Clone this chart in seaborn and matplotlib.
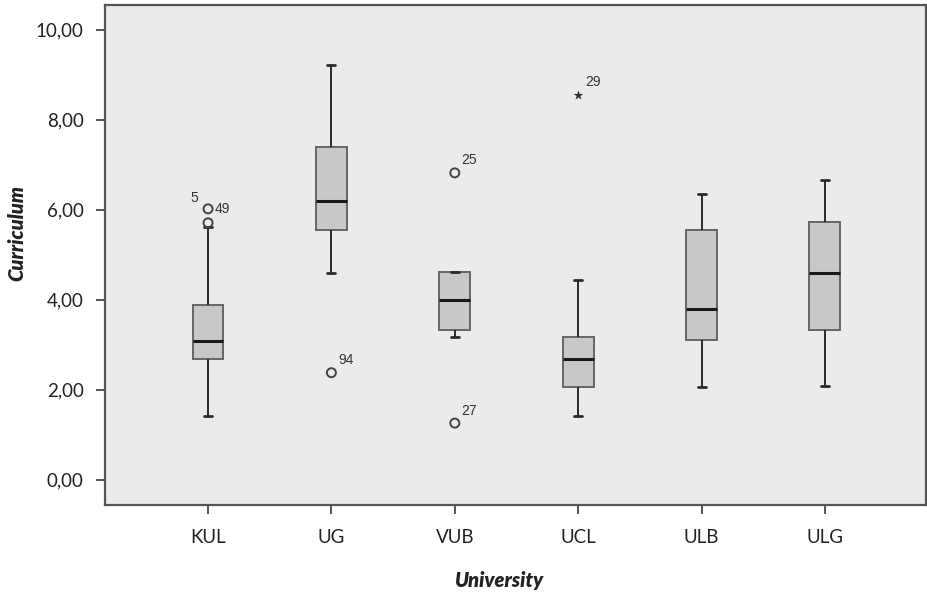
import numpy as np
import pandas as pd
import matplotlib
matplotlib.use("Agg")
import matplotlib.pyplot as plt
import seaborn as sns

# Box summary (SPSS style boxplot)
universities = ["KUL", "UG", "VUB", "UCL", "ULB", "ULG"]
whisker_low = [1.42, 4.60, 3.18, 1.42, 2.06, 2.08]
q1 = [2.68, 5.55, 3.33, 2.06, 3.10, 3.33]
median = [3.09, 6.19, 3.99, 2.69, 3.80, 4.60]
q3 = [3.89, 7.39, 4.61, 3.18, 5.55, 5.72]
whisker_high = [5.62, 9.21, 4.61, 4.44, 6.36, 6.66]

# Outliers (o = outlier, * = extreme) with their case numbers
outlier_uni = ["KUL", "KUL", "UG", "VUB", "VUB", "UCL"]
outlier_val = [5.71, 6.02, 2.38, 6.82, 1.26, 8.56]
outlier_case = ["5", "49", "94", "25", "27", "29"]
outlier_kind = ["o", "o", "o", "o", "o", "*"]

ytick_vals = [0, 2, 4, 6, 8, 10]
ytick_labels = ["0,00", "2,00", "4,00", "6,00", "8,00", "10,00"]

# five points per group -> quartiles land exactly on the read values
rows = []
for i, u in enumerate(universities):
    for v in (whisker_low[i], q1[i], median[i], q3[i], whisker_high[i]):
        rows.append({"University": u, "Curriculum": v})
df = pd.DataFrame(rows)

sns.set_style("white")
plt.rcParams["font.family"] = ["Lato", "DejaVu Sans"]

edge = "#555555"
fig = plt.figure(figsize=(9.27, 5.94), dpi=100)
ax = fig.add_axes([0.1133, 0.1498, 0.8857, 0.8418])
ax.set_facecolor("#ebebed")

sns.boxplot(data=df, x="University", y="Curriculum", order=universities,
            whis=(0, 100), width=0.25, color="#c8c8ca", linecolor=edge,
            linewidth=1.4, showfliers=False, capwidths=0.065, ax=ax,
            medianprops={"color": "#1a1a1a", "linewidth": 2.2},
            whiskerprops={"color": "#2a2a2a", "linewidth": 1.4},
            capprops={"color": "#2a2a2a", "linewidth": 2.0},
            boxprops={"facecolor": "#c8c8ca", "edgecolor": "#666666"})

# outliers drawn on the same categorical positions
pos = [universities.index(u) for u in outlier_uni]
for x, y, k in zip(pos, outlier_val, outlier_kind):
    if k == "o":
        ax.scatter(x, y, s=42, marker="o", facecolor="none", edgecolor="#444444",
                   linewidth=1.4, zorder=5)
    else:
        ax.scatter(x, y, s=55, marker="*", color="#333333", linewidth=0, zorder=5)

label_offsets = {"5": (-7, 18), "49": (5, 0), "94": (5, 9), "25": (5, 9), "27": (5, 9), "29": (5, 9)}
for x, y, c in zip(pos, outlier_val, outlier_case):
    dx, dy = label_offsets[c]
    ax.annotate(c, (x, y), xytext=(dx, dy), textcoords="offset points",
                ha="right" if dx < 0 else "left", va="center", fontsize=10,
                color="#333333", family=["Liberation Sans", "DejaVu Sans"])

ax.set_xlim(-0.835, 5.82)
ax.set_ylim(-0.56, 10.55)
ax.set_yticks(ytick_vals)
ax.set_yticklabels(ytick_labels)

for s in ax.spines.values():
    s.set_visible(True)
    s.set_color(edge)
    s.set_linewidth(1.6)
ax.tick_params(axis="both", which="major", direction="out", length=6.5, width=1.4,
               color=edge, labelsize=13.5, labelcolor="#222222", left=True, bottom=True)
ax.tick_params(axis="y", pad=9)
ax.tick_params(axis="x", pad=11)

ax.set_xlabel("University", fontsize=14.5, fontweight="heavy", style="italic", color="#222222")
ax.set_ylabel("Curriculum", fontsize=14.5, fontweight="heavy", style="italic", color="#222222")
ax.xaxis.label.set_va("center")
ax.yaxis.label.set_va("center")
ax.xaxis.set_label_coords(0.479, -0.15)
ax.yaxis.set_label_coords(-0.108, 0.544)

fig.savefig("out.png", dpi=100)
